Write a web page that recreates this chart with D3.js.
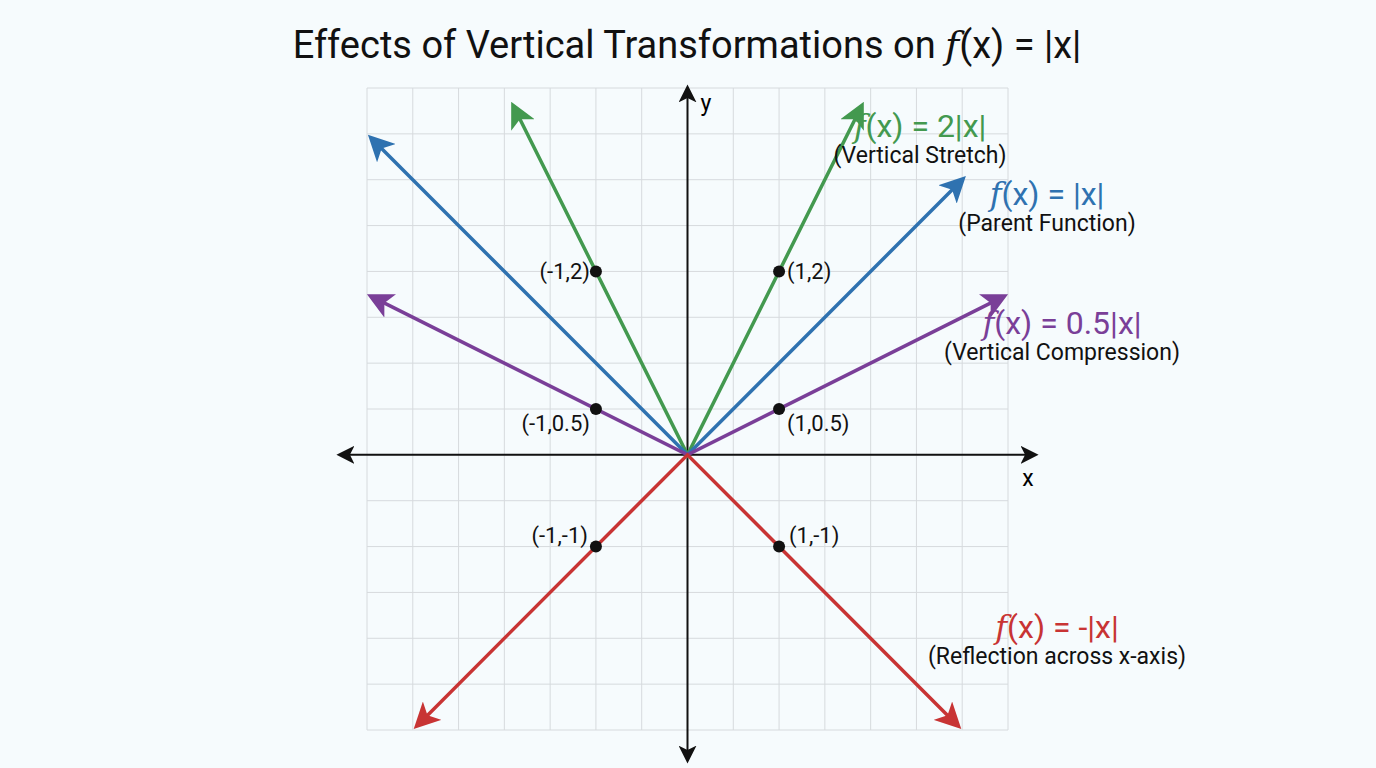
<!DOCTYPE html>
<html><head><meta charset="utf-8">
<script src="https://cdn.jsdelivr.net/npm/d3@7"></script>
<style>body{margin:0;background:#f6fbfd;font-family:Roboto,"Noto Sans",sans-serif}</style>
</head><body><svg id="c" width="1376" height="768"></svg>
<script>
// データ
const xDomain = [-3.5, 3.5];
const yDomain = [-3, 4];
const gridStep = 0.5;
const funcs = [
  { name: "2|x|", k: 2, left: -1.9, right: 1.9, color: "#43994f" },
  { name: "|x|", k: 1, left: -3.45, right: 3, color: "#2f72b0" },
  { name: "0.5|x|", k: 0.5, left: -3.45, right: 3.45, color: "#7a3f98" },
  { name: "-|x|", k: -1, left: -2.95, right: 2.95, color: "#c83434" },
];
const points = [
  { x: -1, y: 2, label: "(-1,2)", side: "l" },
  { x: 1, y: 2, label: "(1,2)", side: "r" },
  { x: -1, y: 0.5, label: "(-1,0.5)", side: "lb" },
  { x: 1, y: 0.5, label: "(1,0.5)", side: "rb" },
  { x: -1, y: -1, label: "(-1,-1)", side: "lt" },
  { x: 1, y: -1, label: "(1,-1)", side: "rt" },
];
const legends = [
  { f: "2|x|", sub: "(Vertical Stretch)", x: 920, y: 137, color: "#43994f" },
  { f: "|x|", sub: "(Parent Function)", x: 1047, y: 205, color: "#2f72b0" },
  { f: "0.5|x|", sub: "(Vertical Compression)", x: 1062, y: 334, color: "#7a3f98" },
  { f: "-|x|", sub: "(Reflection across x-axis)", x: 1057, y: 638, color: "#c83434" },
];

const svg = d3.select("#c");
const x = d3.scaleLinear().domain(xDomain).range([367, 1008]);
const y = d3.scaleLinear().domain(yDomain).range([730, 88]);

const defs = svg.append("defs");
function marker(id, color, size) {
  defs.append("marker").attr("id", id).attr("viewBox", "0 0 10 10")
    .attr("refX", 8).attr("refY", 5).attr("markerWidth", size).attr("markerHeight", size)
    .attr("orient", "auto-start-reverse").attr("markerUnits", "userSpaceOnUse")
    .append("path").attr("d", "M0,0L10,5L0,10L2.5,5Z").attr("fill", color);
}
funcs.forEach((f, i) => marker("m" + i, f.color, 26));
marker("ax", "#111", 18);

// タイトル
svg.append("text").attr("x", 687).attr("y", 58).attr("text-anchor", "middle")
  .attr("font-size", 38).attr("fill", "#111")
  .html('Effects of Vertical Transformations on <tspan font-family="DejaVu Serif" font-style="italic">f</tspan>(x) = |x|');

// グリッド
const g = svg.append("g");
const xs = d3.range(xDomain[0], xDomain[1] + 0.001, gridStep);
const ys = d3.range(yDomain[0], yDomain[1] + 0.001, gridStep);
g.selectAll(".vx").data(xs).join("line").attr("x1", d => x(d)).attr("x2", d => x(d))
  .attr("y1", y(yDomain[0])).attr("y2", y(yDomain[1])).attr("stroke", "#d6dadd");
g.selectAll(".hy").data(ys).join("line").attr("y1", d => y(d)).attr("y2", d => y(d))
  .attr("x1", x(xDomain[0])).attr("x2", x(xDomain[1])).attr("stroke", "#d6dadd");

// 軸
svg.append("line").attr("x1", 340).attr("x2", 1035).attr("y1", y(0)).attr("y2", y(0))
  .attr("stroke", "#111").attr("stroke-width", 2)
  .attr("marker-start", "url(#ax)").attr("marker-end", "url(#ax)");
svg.append("line").attr("x1", x(0)).attr("x2", x(0)).attr("y1", 760).attr("y2", 88)
  .attr("stroke", "#111").attr("stroke-width", 2)
  .attr("marker-start", "url(#ax)").attr("marker-end", "url(#ax)");
svg.append("text").attr("x", 1028).attr("y", 486).attr("text-anchor", "middle").attr("font-size", 23).text("x");
svg.append("text").attr("x", 706).attr("y", 111).attr("text-anchor", "middle").attr("font-size", 23).text("y");

// 関数
funcs.forEach((f, i) => {
  const pts = [[f.left, f.k * Math.abs(f.left)], [0, 0], [f.right, f.k * Math.abs(f.right)]];
  svg.append("path").attr("d", d3.line().x(d => x(d[0])).y(d => y(d[1]))(pts))
    .attr("fill", "none").attr("stroke", f.color).attr("stroke-width", 3.5)
    .attr("marker-start", `url(#m${i})`).attr("marker-end", `url(#m${i})`);
});

// 点
const off = { l: [-6, 8, "end"], r: [8, 8, "start"], lb: [-6, 22, "end"], rb: [8, 22, "start"], lt: [-8, -4, "end"], rt: [10, -4, "start"] };
points.forEach(p => {
  svg.append("circle").attr("cx", x(p.x)).attr("cy", y(p.y)).attr("r", 6).attr("fill", "#111");
  const o = off[p.side];
  svg.append("text").attr("x", x(p.x) + o[0]).attr("y", y(p.y) + o[1]).attr("text-anchor", o[2])
    .attr("font-size", 22).attr("fill", "#111").text(p.label);
});

// 凡例ラベル
legends.forEach(l => {
  svg.append("text").attr("x", l.x).attr("y", l.y).attr("text-anchor", "middle")
    .attr("font-size", 32).attr("fill", l.color)
    .html(`<tspan font-family="DejaVu Serif" font-style="italic">f</tspan>(x) = ${l.f}`);
  svg.append("text").attr("x", l.x).attr("y", l.y + 26).attr("text-anchor", "middle")
    .attr("font-size", 23).attr("fill", "#111").text(l.sub);
});
</script></body></html>
